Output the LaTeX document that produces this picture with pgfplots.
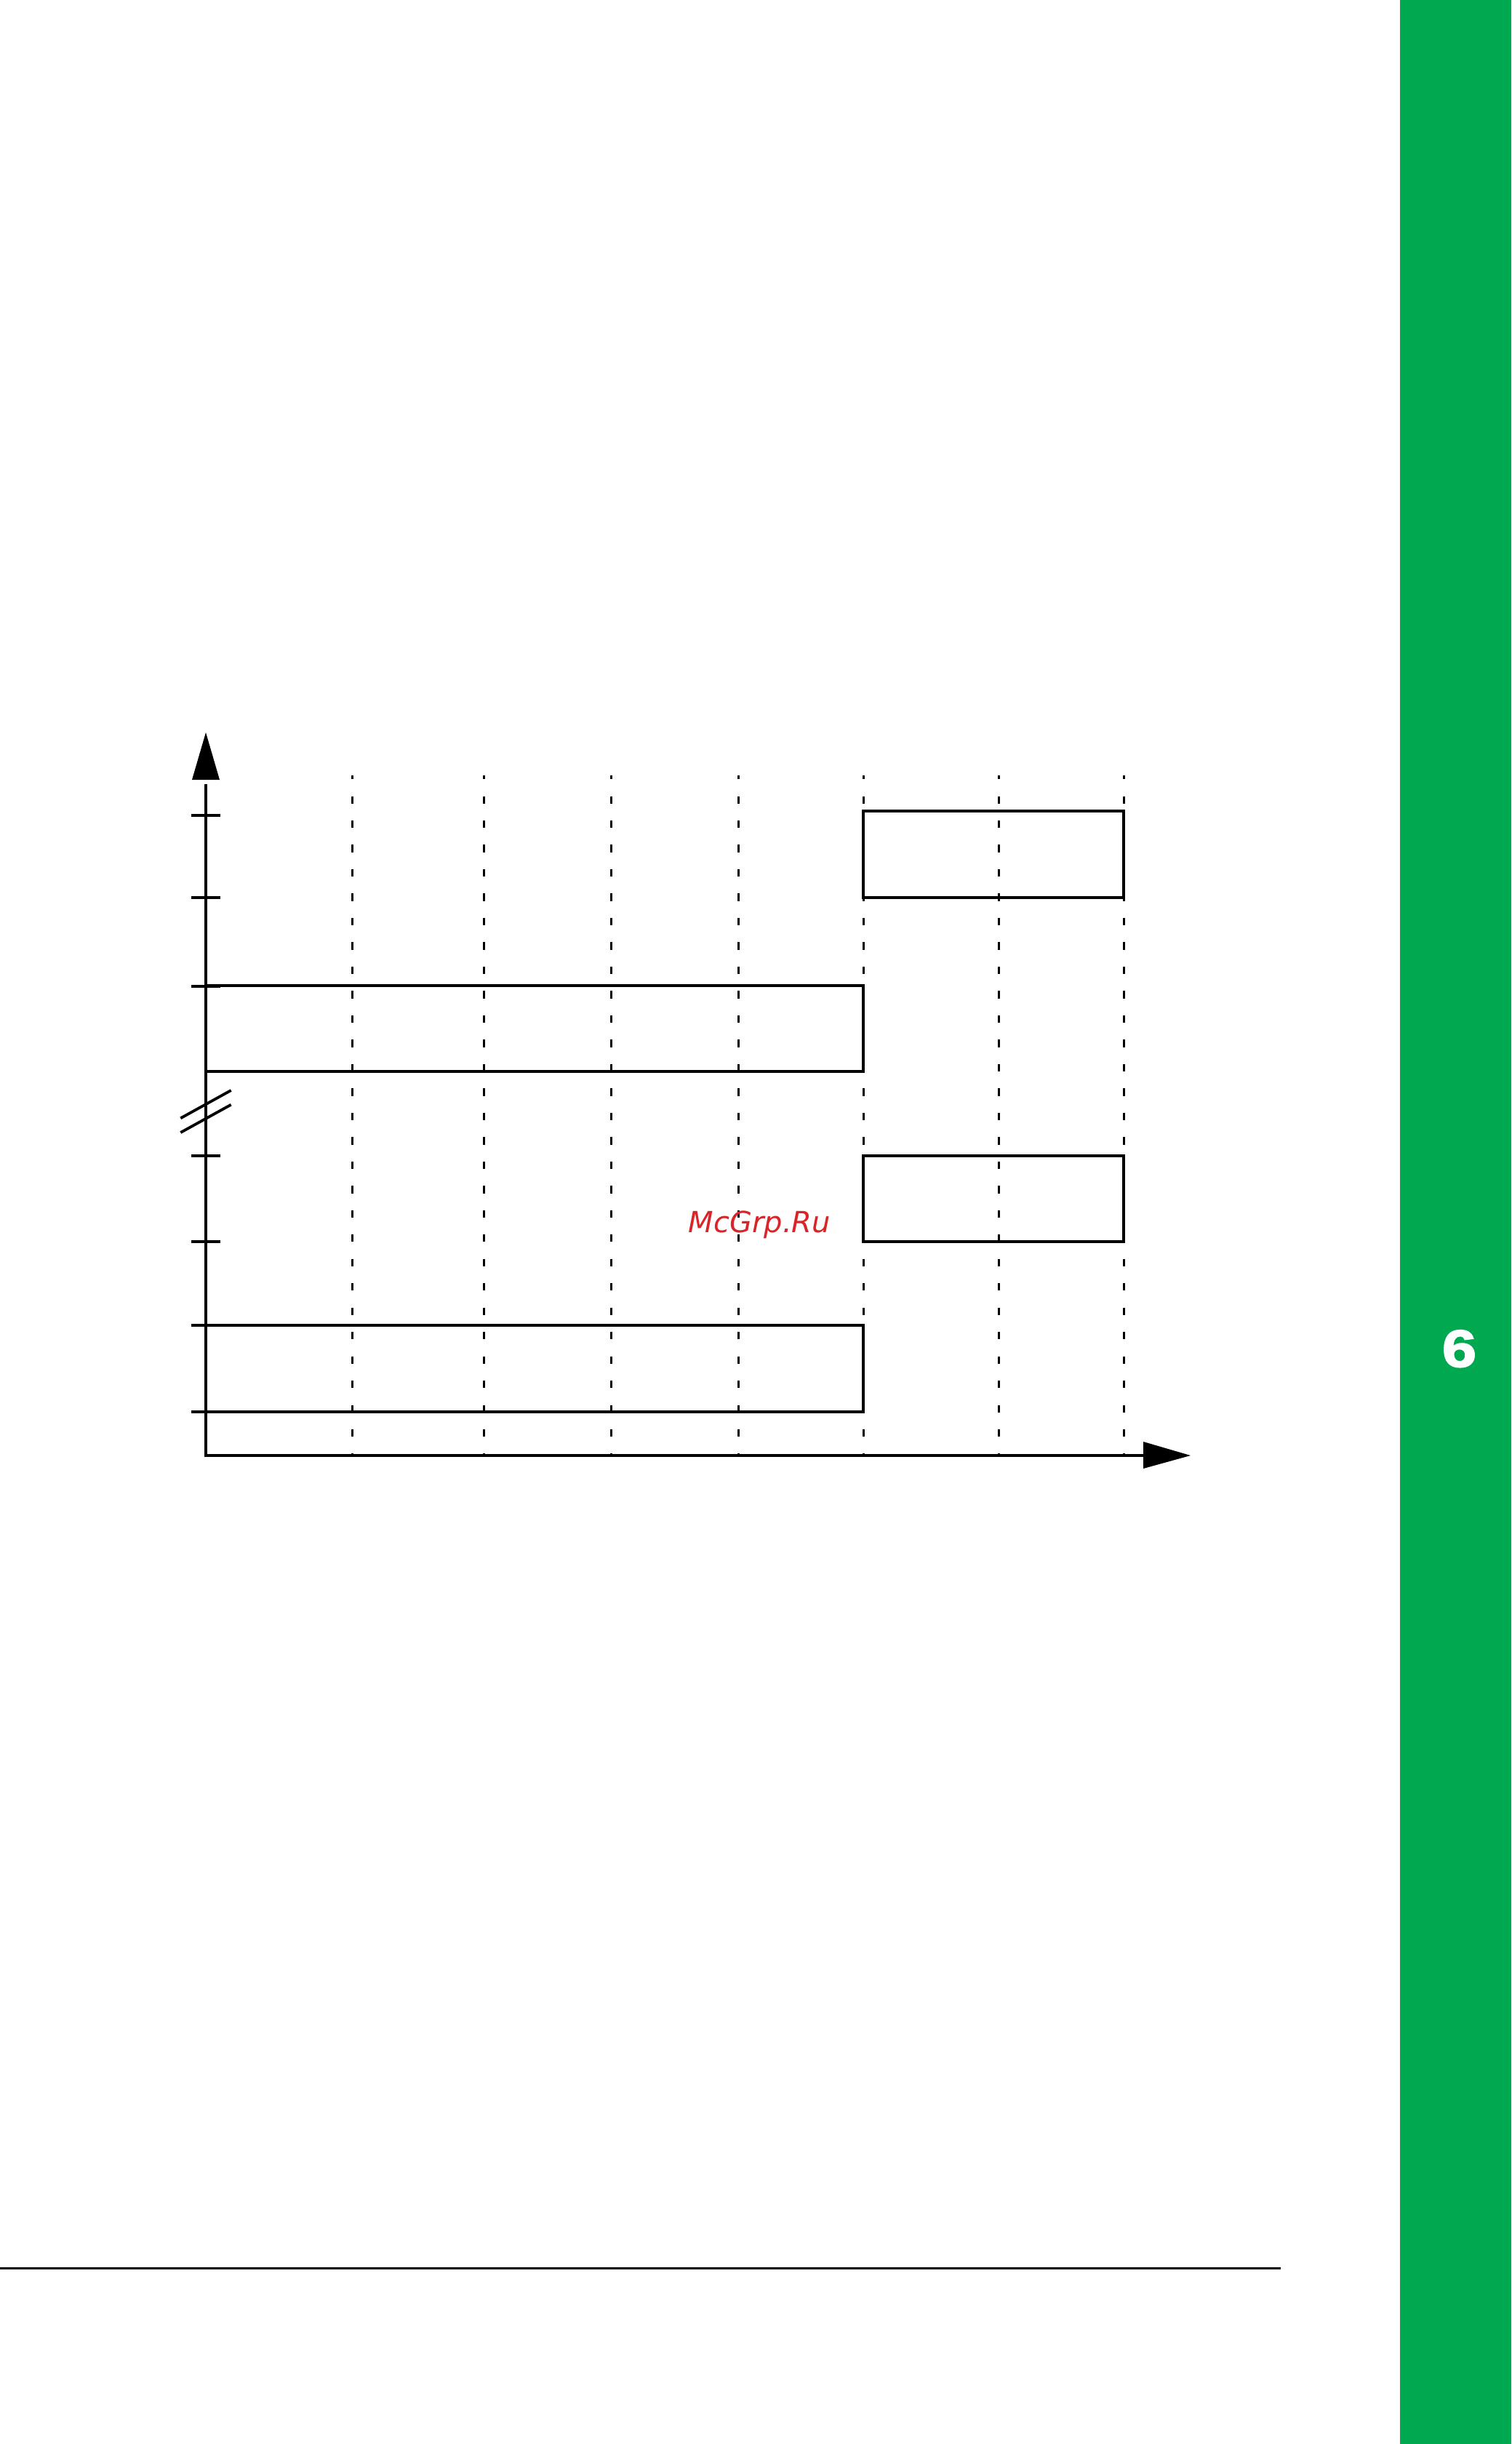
\documentclass[border=0pt]{standalone}
\usepackage{pgfplots}
\pgfplotsset{compat=1.18}
\usepackage{graphicx}
\usepackage{fontspec}
\newfontfamily\wmfont{DejaVu Sans}
\newfontfamily\tabfont{Liberation Sans}[BoldFeatures={FakeBold=2.5}]
\definecolor{tabgreen}{RGB}{0,168,80}
\definecolor{wmred}{RGB}{218,37,40}

\begin{document}
\begin{tikzpicture}
\begin{axis}[
    scale only axis,
    width=519.5pt, height=840pt,
    xmin=0, xmax=2078, ymin=0, ymax=3360,
    y dir=reverse,
    axis lines=none,
    axis background/.style={fill=white},
  ]
  % side tab
  \addplot[fill=tabgreen, draw=none] coordinates {(1925,0) (2078,0) (2078,3360) (1925,3360)} -- cycle;
  % footer rule
  \addplot[black, line width=0.9pt] coordinates {(0,3118.3) (1761,3118.3)};

  % dashed time lines
  \pgfplotsinvokeforeach{484,665,840,1015,1187,1373,1545}{
    \addplot[black, line width=0.75pt, dash pattern=on 2.58pt off 5.79pt, dash phase=1.12pt]
      coordinates {(#1,1065.5) (#1,2001)};
  }

  % signal levels (high/low bands)
  \addplot[black, line width=1pt] coordinates {(1187,1114.7) (1545,1114.7) (1545,1233.7) (1187,1233.7)} -- cycle;
  \addplot[black, line width=1pt] coordinates {(283,1355) (1187,1355) (1187,1472.7) (283,1472.7)} -- cycle;
  \addplot[black, line width=1pt] coordinates {(1187,1588.7) (1545,1588.7) (1545,1707) (1187,1707)} -- cycle;
  \addplot[black, line width=1pt] coordinates {(283,1822.3) (1187,1822.3) (1187,1941) (283,1941)} -- cycle;

  % axes
  \addplot[black, line width=1.1pt] coordinates {(283,1078) (283,2001) (1578,2001)};
  \addplot[fill=black, draw=none] coordinates {(264,1072) (283,1007) (302,1072)} -- cycle;
  \addplot[fill=black, draw=none] coordinates {(1572,1982) (1637,2001) (1572,2019)} -- cycle;

  % y ticks
  \pgfplotsinvokeforeach{1120.7,1233.7,1356,1588.7,1707,1822.3,1941}{
    \addplot[black, line width=0.95pt] coordinates {(263,#1) (303,#1)};
  }
  % axis break
  \addplot[black, line width=0.95pt] coordinates {(248.3,1537.3) (317.7,1499)};
  \addplot[black, line width=0.95pt] coordinates {(248.3,1557) (317.7,1518.7)};

  \node[anchor=base, inner sep=0pt, text=wmred] at (1044.5,1694.3)
    {\wmfont\itshape\fontsize{10pt}{12pt}\selectfont McGrp.Ru};
  \node[anchor=base, inner sep=0pt, text=white] at (2006.5,1879)
    {\tabfont\bfseries\fontsize{18pt}{20pt}\selectfont\scalebox{1.17}[1]{6}};
\end{axis}
\end{tikzpicture}
\end{document}
